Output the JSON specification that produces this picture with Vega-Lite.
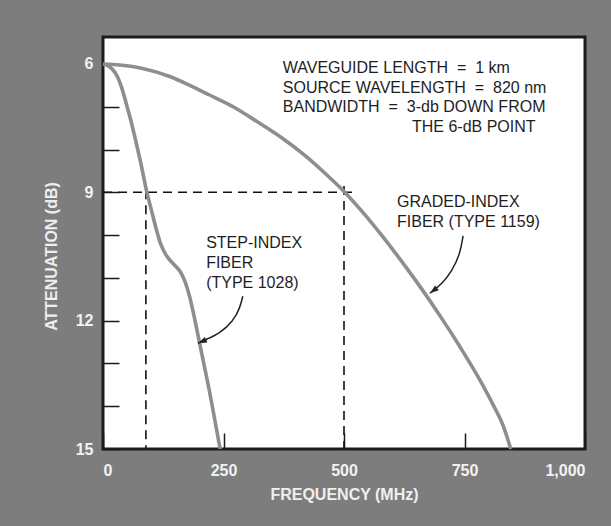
{
  "$schema": "https://vega.github.io/schema/vega-lite/v6.json",
  "width": 482,
  "height": 412,
  "autosize": {"type": "none"},
  "padding": {"left": 103, "top": 37, "right": 26, "bottom": 77},
  "background": "#7d7d7d",
  "view": {"fill": "#ffffff", "stroke": "#1c1c1c", "strokeWidth": 3},
  "config": {
    "axis": {
      "labelFont": "Liberation Sans",
      "labelFontWeight": "bold",
      "labelFontSize": 16,
      "labelColor": "#f2f2f2",
      "titleFont": "Liberation Sans",
      "titleFontWeight": "bold",
      "titleFontSize": 16,
      "titleColor": "#efefef",
      "domain": false,
      "grid": false,
      "tickColor": "#1a1a1a",
      "tickWidth": 1.5,
      "tickSize": -16
    }
  },
  "datasets": {
    "curves": [
      {"series": "graded", "f": 0, "db": 6.0},
      {"series": "graded", "f": 40, "db": 6.03},
      {"series": "graded", "f": 80, "db": 6.1},
      {"series": "graded", "f": 140, "db": 6.3},
      {"series": "graded", "f": 180, "db": 6.5},
      {"series": "graded", "f": 220, "db": 6.72},
      {"series": "graded", "f": 270, "db": 7.0},
      {"series": "graded", "f": 320, "db": 7.35},
      {"series": "graded", "f": 370, "db": 7.72},
      {"series": "graded", "f": 420, "db": 8.15},
      {"series": "graded", "f": 460, "db": 8.55},
      {"series": "graded", "f": 500, "db": 8.98},
      {"series": "graded", "f": 540, "db": 9.48},
      {"series": "graded", "f": 580, "db": 10.03},
      {"series": "graded", "f": 620, "db": 10.62},
      {"series": "graded", "f": 660, "db": 11.24},
      {"series": "graded", "f": 700, "db": 11.9},
      {"series": "graded", "f": 740, "db": 12.6},
      {"series": "graded", "f": 780, "db": 13.35},
      {"series": "graded", "f": 810, "db": 13.98},
      {"series": "graded", "f": 830, "db": 14.45},
      {"series": "graded", "f": 846, "db": 15.0},
      {"series": "step", "f": 0, "db": 6.0},
      {"series": "step", "f": 10, "db": 6.04},
      {"series": "step", "f": 20, "db": 6.13},
      {"series": "step", "f": 30, "db": 6.3},
      {"series": "step", "f": 40, "db": 6.6},
      {"series": "step", "f": 50, "db": 7.0},
      {"series": "step", "f": 60, "db": 7.42},
      {"series": "step", "f": 70, "db": 7.9},
      {"series": "step", "f": 80, "db": 8.4},
      {"series": "step", "f": 90, "db": 8.95},
      {"series": "step", "f": 100, "db": 9.4},
      {"series": "step", "f": 110, "db": 9.84},
      {"series": "step", "f": 120, "db": 10.22},
      {"series": "step", "f": 130, "db": 10.45},
      {"series": "step", "f": 140, "db": 10.6},
      {"series": "step", "f": 150, "db": 10.72},
      {"series": "step", "f": 160, "db": 10.85},
      {"series": "step", "f": 170, "db": 11.08},
      {"series": "step", "f": 180, "db": 11.45},
      {"series": "step", "f": 190, "db": 11.95},
      {"series": "step", "f": 200, "db": 12.5},
      {"series": "step", "f": 210, "db": 13.05},
      {"series": "step", "f": 220, "db": 13.6},
      {"series": "step", "f": 230, "db": 14.2},
      {"series": "step", "f": 243, "db": 15.0}
    ],
    "guides": [
      {"f": 0, "f2": 527, "db": 9, "db2": 9},
      {"f": 89, "f2": 89, "db": 8.95, "db2": 15},
      {"f": 500, "f2": 500, "db": 8.85, "db2": 15}
    ],
    "arrows": [
      {"arrow": "graded", "i": 0, "f": 747, "db": 10.02},
      {"arrow": "graded", "i": 1, "f": 741, "db": 10.44},
      {"arrow": "graded", "i": 2, "f": 724, "db": 10.84},
      {"arrow": "graded", "i": 3, "f": 703, "db": 11.15},
      {"arrow": "graded", "i": 4, "f": 678, "db": 11.36},
      {"arrow": "step", "i": 0, "f": 290, "db": 11.43},
      {"arrow": "step", "i": 1, "f": 284, "db": 11.71},
      {"arrow": "step", "i": 2, "f": 270, "db": 12.01},
      {"arrow": "step", "i": 3, "f": 243, "db": 12.29},
      {"arrow": "step", "i": 4, "f": 216, "db": 12.43},
      {"arrow": "step", "i": 5, "f": 197, "db": 12.53}
    ],
    "heads": [
      {"arrow": "graded", "f": 678, "db": 11.36},
      {"arrow": "step", "f": 197, "db": 12.53}
    ],
    "notes": [
      {"f": 373, "db": 6.1, "text": "WAVEGUIDE LENGTH \u00a0=\u00a0 1 km"},
      {"f": 373, "db": 6.56, "text": "SOURCE WAVELENGTH \u00a0=\u00a0 820 nm"},
      {"f": 373, "db": 7.0, "text": "BANDWIDTH \u00a0=\u00a0 3-db DOWN FROM"},
      {"f": 641, "db": 7.47, "text": "THE 6-dB POINT"},
      {"f": 610, "db": 9.22, "text": "GRADED-INDEX"},
      {"f": 610, "db": 9.69, "text": "FIBER (TYPE 1159)"},
      {"f": 214, "db": 10.18, "text": "STEP-INDEX"},
      {"f": 214, "db": 10.65, "text": "FIBER"},
      {"f": 214, "db": 11.12, "text": "(TYPE 1028)"}
    ]
  },
  "encoding": {
    "x": {
      "field": "f",
      "type": "quantitative",
      "scale": {"domain": [0, 1000], "nice": false, "zero": false},
      "axis": {
        "values": [0, 250, 500, 750, 1000],
        "format": ",d",
        "title": "FREQUENCY (MHz)",
        "labelPadding": 29,
        "titlePadding": 8
      }
    },
    "y": {
      "field": "db",
      "type": "quantitative",
      "scale": {"domain": [5.37, 15], "nice": false, "zero": false, "reverse": true},
      "axis": {
        "values": [6, 7, 8, 9, 10, 11, 12, 13, 14, 15],
        "labelExpr": "datum.value % 3 === 0 ? datum.label : ''",
        "title": "ATTENUATION (dB)",
        "labelPadding": 26,
        "titlePadding": 16,
        "titleY": 219
      }
    }
  },
  "layer": [
    {
      "data": {"name": "guides"},
      "mark": {"type": "rule", "color": "#111111", "strokeWidth": 1.6, "strokeDash": [9, 6]},
      "encoding": {
        "x2": {"field": "f2"},
        "y2": {"field": "db2"}
      }
    },
    {
      "data": {"name": "curves"},
      "mark": {"type": "line", "color": "#8e8e8e", "strokeWidth": 3.6, "interpolate": "monotone"},
      "encoding": {
        "detail": {"field": "series"}
      }
    },
    {
      "data": {"name": "arrows"},
      "mark": {"type": "line", "color": "#222222", "strokeWidth": 1.5, "interpolate": "basis"},
      "encoding": {
        "detail": {"field": "arrow"},
        "order": {"field": "i", "type": "quantitative"}
      }
    },
    {
      "data": {"name": "heads"},
      "transform": [{"filter": "datum.arrow === 'graded'"}],
      "mark": {"type": "point", "shape": "M0,0L0.5,1.5L-0.5,1.5Z", "filled": true, "color": "#222222", "size": 144, "angle": 233, "opacity": 1}
    },
    {
      "data": {"name": "heads"},
      "transform": [{"filter": "datum.arrow === 'step'"}],
      "mark": {"type": "point", "shape": "M0,0L0.5,1.5L-0.5,1.5Z", "filled": true, "color": "#222222", "size": 144, "angle": 246, "opacity": 1}
    },
    {
      "data": {"name": "notes"},
      "mark": {"type": "text", "font": "Liberation Sans", "fontSize": 16, "color": "#1e1e1e", "align": "left", "baseline": "middle"},
      "encoding": {
        "text": {"field": "text"}
      }
    }
  ]
}
